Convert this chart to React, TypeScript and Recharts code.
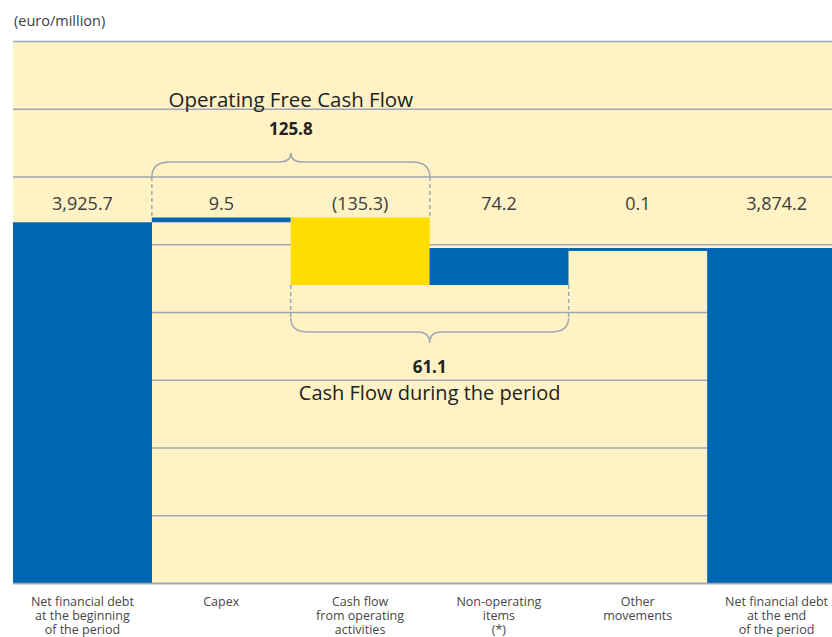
import React from 'react';
import { ComposedChart, Bar, XAxis, YAxis, CartesianGrid, Cell, LabelList } from 'recharts';

// categories and movements (euro/million)
const categories = [
  'Net financial debt\nat the beginning\nof the period',
  'Capex',
  'Cash flow\nfrom operating\nactivities',
  'Non-operating\nitems\n(*)',
  'Other\nmovements',
  'Net financial debt\nat the end\nof the period',
];
const changes = [3925.7, 9.5, -135.3, 74.2, 0.1, 3874.2];
const isTotal = [true, false, false, false, false, true];
const valueLabels = ['3,925.7', '9.5', '(135.3)', '74.2', '0.1', '3,874.2'];
const operatingFreeCashFlow = '125.8';
const cashFlowPeriod = '61.1';

// the axis is cut, only the top of the debt bars is shown
const AXIS_MIN = 3203;
const AXIS_MAX = 4287;
const GRID_TICKS = Array.from({ length: 9 }, (_, i) => AXIS_MIN + (i * (AXIS_MAX - AXIS_MIN)) / 8);

const BLUE = '#0066b3';
const YELLOW = '#ffdd00';
const BG = '#fff2c4';
const GRID = '#9ea6b2';
const TEXT = '#3d3d3d';
const FONT = '"Open Sans", sans-serif';

let level = 0;
const data = categories.map((name, i) => {
  let range: number[];
  if (isTotal[i]) {
    level = changes[i];
    range = [AXIS_MIN, changes[i]];
  } else {
    const start = level;
    level = level + changes[i];
    // high first so a tiny bar grows downward
    range = [Math.max(start, level), Math.min(start, level)];
  }
  return { name, range, label: valueLabels[i], negative: changes[i] < 0 };
});

const CategoryTick = (props: any) => {
  const { x, y, payload } = props;
  const lines = String(payload.value).split('\n');
  return (
    <text x={x} y={y} textAnchor="middle" fill="#474747" fontSize={12.5} fontFamily={FONT}>
      {lines.map((l, i) => (
        <tspan key={i} x={x} dy={i === 0 ? '0.71em' : 14}>
          {l}
        </tspan>
      ))}
    </text>
  );
};

const renderAnnotations = (props: any) => {
  const vb = props.viewBox && props.viewBox.width !== undefined ? props.viewBox : props;
  const { x, y, width, height } = vb;
  const index = props.index;
  const cx = x + width / 2;
  const top = Math.min(y, y + height);
  const bottom = Math.max(y, y + height);
  const items: React.ReactNode[] = [
    <text key="v" x={cx} y={210} textAnchor="middle" fill={TEXT} fontSize={18} fontFamily={FONT}>
      {valueLabels[index]}
    </text>,
  ];
  if (index === 1) {
    const x1 = x;
    const x2 = x + 2 * width;
    const mid = x + width;
    items.push(
      <path
        key="b"
        d={`M${x1},177 Q${x1},162 ${x1 + 18},162 L${mid - 12},162 Q${mid},162 ${mid},153 Q${mid},162 ${mid + 12},162 L${x2 - 18},162 Q${x2},162 ${x2},177`}
        fill="none"
        stroke={GRID}
        strokeWidth={1.5}
      />,
      <line key="d1" x1={x1} x2={x1} y1={177} y2={top} stroke={GRID} strokeWidth={1.5} strokeDasharray="4 3" />,
      <line key="d2" x1={x2} x2={x2} y1={177} y2={top} stroke={GRID} strokeWidth={1.5} strokeDasharray="4 3" />,
      <text key="t" x={mid} y={107} textAnchor="middle" fill="#222" fontSize={20.5} fontFamily={FONT}>
        Operating Free Cash Flow
      </text>,
      <text key="n" x={mid} y={135} textAnchor="middle" fill="#222" fontSize={17} fontWeight="bold" fontFamily={FONT}>
        {operatingFreeCashFlow}
      </text>
    );
  }
  if (index === 2) {
    const x1 = x;
    const x2 = x + 2 * width;
    const mid = x + width;
    items.push(
      <path
        key="b"
        d={`M${x1},318 Q${x1},332 ${x1 + 18},332 L${mid - 12},332 Q${mid},332 ${mid},343 Q${mid},332 ${mid + 12},332 L${x2 - 18},332 Q${x2},332 ${x2},318`}
        fill="none"
        stroke={GRID}
        strokeWidth={1.5}
      />,
      <line key="d1" x1={x1} x2={x1} y1={bottom} y2={318} stroke={GRID} strokeWidth={1.5} strokeDasharray="4 3" />,
      <line key="d2" x1={x2} x2={x2} y1={bottom} y2={318} stroke={GRID} strokeWidth={1.5} strokeDasharray="4 3" />,
      <text key="n" x={mid} y={373} textAnchor="middle" fill="#222" fontSize={17} fontWeight="bold" fontFamily={FONT}>
        {cashFlowPeriod}
      </text>,
      <text key="t" x={mid} y={400} textAnchor="middle" fill="#222" fontSize={20} fontFamily={FONT}>
        Cash Flow during the period
      </text>
    );
  }
  return <g>{items}</g>;
};

export default function App() {
  return (
    <div
      style={{
        position: 'absolute',
        left: 0,
        top: 0,
        width: 832,
        height: 637,
        overflow: 'hidden',
        background: '#fff',
      }}
    >
      <div
        style={{
          position: 'absolute',
          left: 14,
          top: 11,
          fontFamily: FONT,
          fontSize: 14.5,
          color: TEXT,
        }}
      >
        (euro/million)
      </div>
      <ComposedChart
        width={846}
        height={637}
        data={data}
        margin={{ top: 41.5, right: 0, bottom: 0, left: 13 }}
        barCategoryGap={0}
        barGap={0}
      >
        <CartesianGrid vertical={false} fill={BG} stroke={GRID} strokeWidth={1.5} />
        <XAxis
          dataKey="name"
          interval={0}
          height={53.5}
          tickLine={false}
          axisLine={{ stroke: GRID, strokeWidth: 1.5 }}
          tick={<CategoryTick />}
          tickMargin={8}
        />
        <YAxis hide domain={[AXIS_MIN, AXIS_MAX]} ticks={GRID_TICKS} allowDataOverflow />
        <Bar dataKey="range" isAnimationActive={false} minPointSize={3}>
          {data.map((d, i) => (
            <Cell key={i} fill={d.negative ? YELLOW : BLUE} />
          ))}
          <LabelList dataKey="label" content={renderAnnotations} />
        </Bar>
      </ComposedChart>
    </div>
  );
}
